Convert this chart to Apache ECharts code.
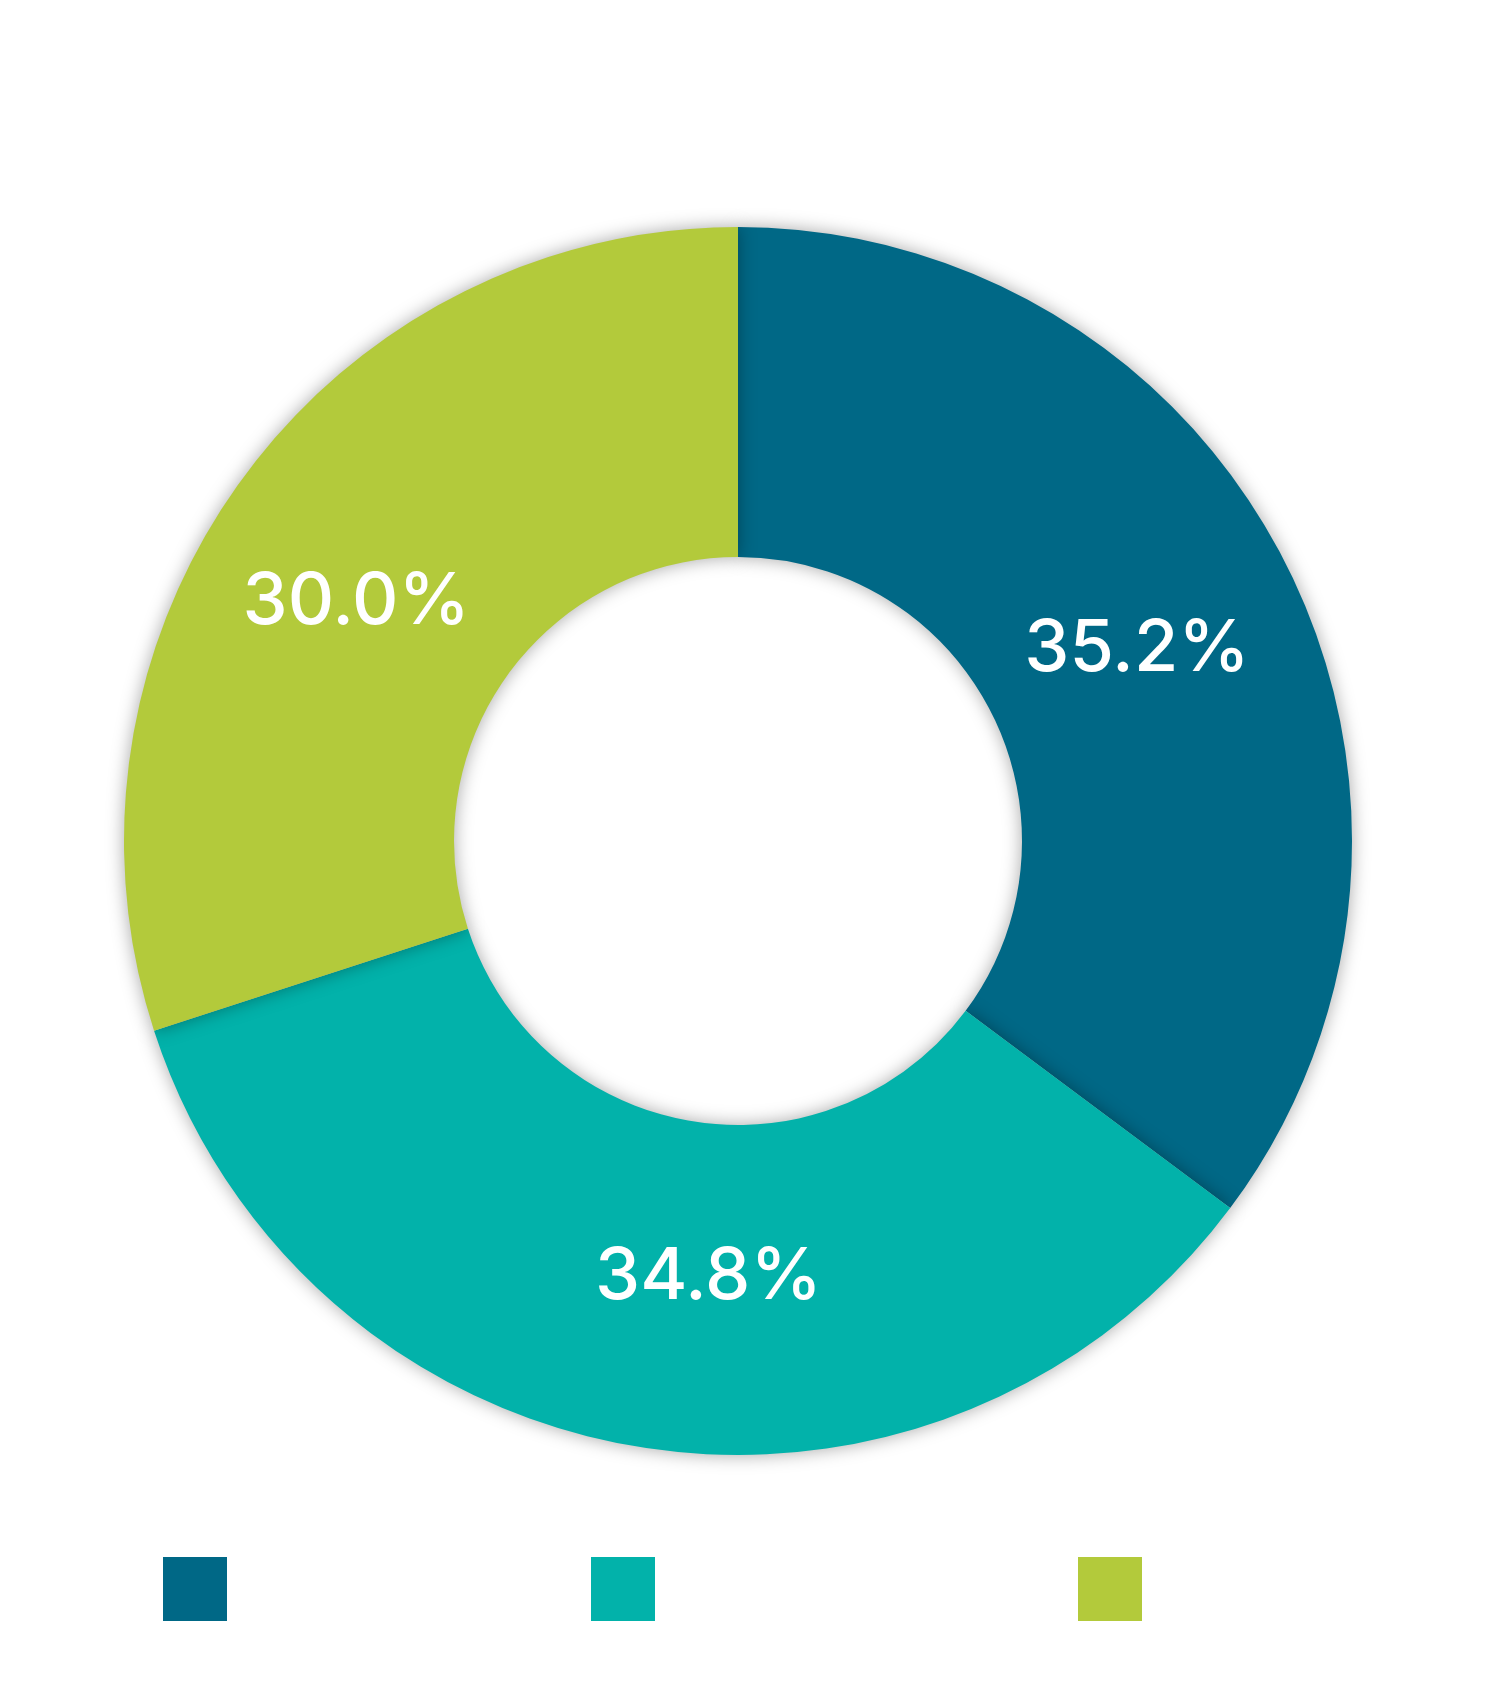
<!DOCTYPE html>
<html>
<head>
<meta charset="utf-8">
<script src="https://cdn.jsdelivr.net/npm/echarts@6/dist/echarts.min.js"></script>
<style>html,body{margin:0;padding:0;background:#fff}#c{width:1500px;height:1689px}</style>
</head>
<body>
<div id="c"></div>
<script>
const categories = ['Category A', 'Category B', 'Category C'];
const values = [35.2, 34.8, 30.0];
const colors = ['#006886', '#02B2AA', '#B3CA3B'];
const labelOffsets = [[-5, 11], [44, -10], [-16, 27]];

const chart = echarts.init(document.getElementById('c'));
const legendLefts = [158, 586, 1073];
const legends = categories.map((c, i) => ({
  data: [c],
  left: legendLefts[i],
  top: 1552,
  itemWidth: 64,
  itemHeight: 64,
  itemGap: 20,
  icon: 'rect',
  textStyle: {color: '#ffffff', fontSize: 22, fontFamily: 'Lato'}
}));
chart.setOption({
  animation: false,
  backgroundColor: '#ffffff',
  color: colors,
  legend: legends,
  series: [{
    type: 'pie',
    center: [738, 841],
    radius: [284, 614],
    startAngle: 90,
    clockwise: true,
    avoidLabelOverlap: false,
    itemStyle: {
      shadowBlur: 18,
      shadowColor: 'rgba(0,0,0,0.35)'
    },
    label: {
      show: true,
      position: 'inside',
      color: '#ffffff',
      fontSize: 72,
      fontFamily: 'Inter',
      fontWeight: 500,
      formatter: p => p.value.toFixed(1) + '%'
    },
    labelLine: {show: false},
    data: categories.map((c, i) => ({name: c, value: values[i], label: {offset: labelOffsets[i]}}))
  }]
});
</script>
</body>
</html>
